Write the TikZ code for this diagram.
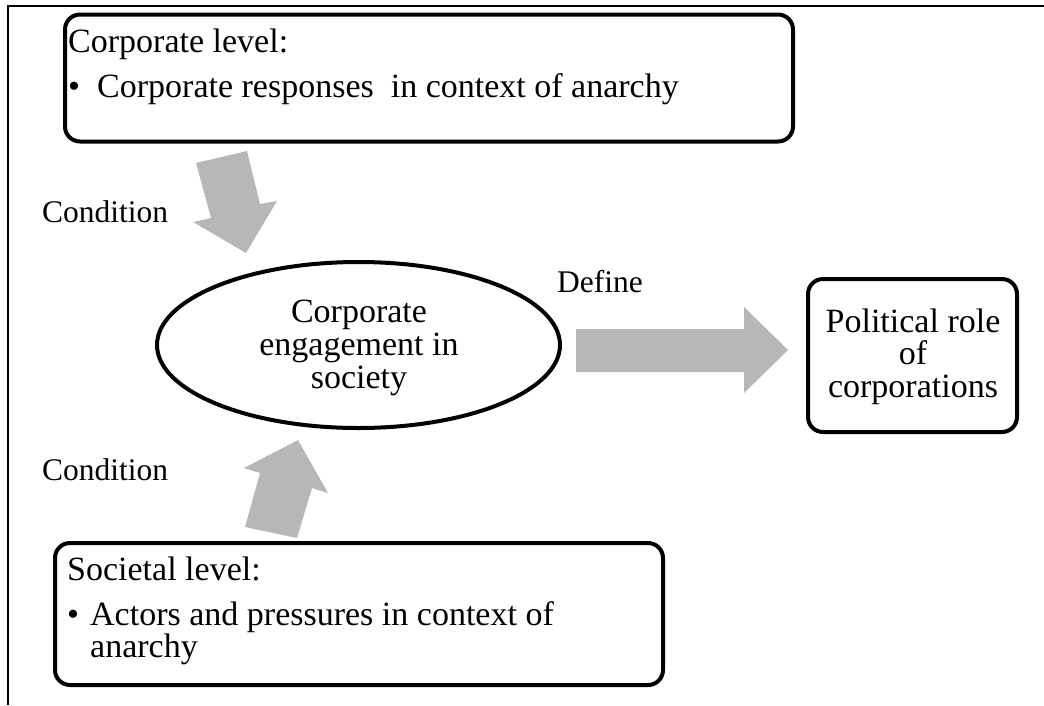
\documentclass[tikz,border=0pt]{standalone}
\usepackage{fontspec}
\setmainfont{Liberation Serif}
\usetikzlibrary{shapes.geometric}
\definecolor{arrowgray}{RGB}{183,183,183}
\begin{document}
\begin{tikzpicture}[x=1pt,y=-1pt,
  box/.style={draw, line width=4pt, rounded corners=15pt, inner sep=0pt},
  boxfont/.style={font=\fontsize{34}{33}\selectfont},
  boxtext/.style={boxfont, inner sep=0pt, anchor=base west},
  lbl/.style={font=\fontsize{31.5}{36}\selectfont, inner sep=0pt, anchor=base west},
  blockarrow/.style={fill=arrowgray, draw=none}]
\useasboundingbox (0,0) rectangle (1044,705);
% frame
\draw[line width=1.5pt] (8,705) -- (8,6) -- (1044,6);

% boxes
\node[box, minimum width=728pt, minimum height=127pt] (topbox) at (429,78) {};
\node[box, minimum width=608pt, minimum height=142pt] (botbox) at (359,614) {};
\node[box, minimum width=209pt, minimum height=153pt] (pol) at (912.5,355.5) {};
\node[draw, line width=4pt, ellipse, inner sep=0pt, minimum width=403pt, minimum height=166pt] (eng) at (358.5,345) {};

% box texts
\node[boxtext] (toph) at (68,52) {Corporate level:};
\node[boxtext] (topb) at (68,97) {\textbullet};
\node[boxtext] (topt) at (97,97) {Corporate responses\ \ in context of anarchy};
\node[boxtext] (both) at (67,580) {Societal level:};
\node[boxtext] (botb) at (67,625) {\textbullet};
\node[font=\fontsize{34}{30}\selectfont, align=left, inner sep=0pt, anchor=north west] (bott) at (90,601.8) {Actors and pressures in context of\\anarchy};
\node[boxfont, align=center, inner sep=0pt] (engt) at (359,348.3) {Corporate\\engagement in\\society};
\node[font=\fontsize{34}{32.5}\selectfont, align=center, inner sep=0pt] (polt) at (913,356.7) {Political role\\of\\corporations};

% labels
\node[lbl] (cond1) at (42,222) {Condition};
\node[lbl] (cond2) at (42,480) {Condition};
\node[lbl] (define) at (557,292) {Define};

% block arrows
\fill[blockarrow] (196,163) -- (247,151) -- (260,204) -- (277,201) -- (246,253) -- (193,222) -- (211,218) -- cycle;
\fill[blockarrow] (298,440) -- (328,493) -- (312,488) -- (297,538) -- (245,527) -- (260,473) -- (244,468) -- cycle;
\fill[blockarrow] (576,329) -- (744,329) -- (744,307) -- (788,350) -- (744,393) -- (744,372) -- (576,372) -- cycle;
\end{tikzpicture}
\end{document}
